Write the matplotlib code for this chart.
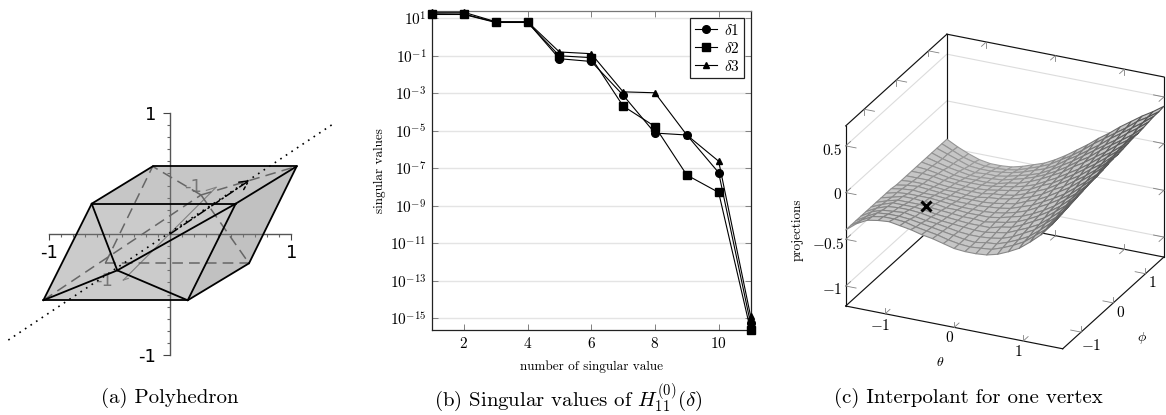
import numpy as np
import matplotlib
matplotlib.use('Agg')
import matplotlib.pyplot as plt
from mpl_toolkits.mplot3d import proj3d

plt.rcParams['font.family'] = ['cmr10', 'DejaVu Serif']
plt.rcParams['mathtext.fontset'] = 'cm'
plt.rcParams['axes.unicode_minus'] = False
plt.rcParams['axes.formatter.use_mathtext'] = True

W, H = 1166, 415

# (a) polyhedron vertices, read in axis units
A = (-1.045, -0.547)
B = (0.146, -0.547)
C = (0.652, -0.242)
D = (1.045, 0.558)
E = (-0.143, 0.558)
F = (-0.646, 0.25)
G = (0.542, 0.25)
P = (-0.435, -0.30)
Q = (-0.534, -0.242)
R = (0.256, 0.322)
solid_edges = [(A, B), (B, C), (C, D), (D, E), (E, F), (F, A), (F, G), (G, B),
               (F, P), (P, B), (A, P), (P, G), (G, D)]
hidden_edges = [(A, R), (R, E), (R, D), (R, C), (Q, E), (Q, C)]
view_line = [(-1.334, -0.875), (1.334, 0.90)]
view_arrow = (0.66, 0.446)
depth_axis = [(-0.385, -0.38), (0.38, 0.385)]
depth_ticks = [[(-0.385, -0.38), (-0.344, -0.366)], [(0.38, 0.385), (0.30, 0.36)]]

# (b) singular values
sv_index = [1, 2, 3, 4, 5, 6, 7, 8, 9, 10, 11]
delta1 = [17.5, 17.0, 6.3, 6.3, 0.07, 0.05, 8e-4, 7.6e-6, 6e-6, 5.9e-8, 5.6e-16]
delta2 = [16.0, 16.0, 6.0, 6.0, 0.10, 0.08, 2.1e-4, 1.7e-5, 4.4e-8, 5.2e-9, 2.4e-16]
delta3 = [21.0, 21.0, 6.6, 6.6, 0.16, 0.13, 1.2e-3, 1.07e-3, 6e-6, 2.4e-7, 1.4e-15]
sv_yticks = [1e1, 1e-1, 1e-3, 1e-5, 1e-7, 1e-9, 1e-11, 1e-13, 1e-15]

# (c) interpolant, rows go along phi, columns along theta
theta = [-1.571, -1.414, -1.257, -1.100, -0.942, -0.785, -0.628, -0.471, -0.314, -0.157, 0.0,
         0.157, 0.314, 0.471, 0.628, 0.785, 0.942, 1.100, 1.257, 1.414, 1.571]
phi = list(theta)
proj_values = [
    [-.40, -.31, -.25, -.23, -.22, -.24, -.26, -.29, -.31, -.34, -.37, -.38, -.38, -.37, -.34, -.29, -.23, -.14, -.04, .09, .25],
    [-.40, -.32, -.26, -.24, -.24, -.25, -.28, -.30, -.32, -.35, -.37, -.38, -.37, -.36, -.32, -.27, -.21, -.12, -.03, .10, .26],
    [-.40, -.33, -.27, -.26, -.26, -.27, -.29, -.31, -.33, -.35, -.37, -.38, -.36, -.35, -.31, -.26, -.20, -.11, -.01, .11, .27],
    [-.40, -.33, -.29, -.28, -.27, -.29, -.31, -.32, -.34, -.36, -.37, -.37, -.36, -.34, -.30, -.24, -.18, -.09, .00, .12, .27],
    [-.40, -.34, -.30, -.29, -.29, -.30, -.32, -.34, -.35, -.36, -.37, -.37, -.35, -.33, -.28, -.23, -.17, -.08, .02, .14, .28],
    [-.40, -.35, -.31, -.31, -.31, -.32, -.34, -.35, -.36, -.37, -.37, -.37, -.34, -.32, -.27, -.21, -.15, -.06, .03, .15, .29],
    [-.40, -.36, -.33, -.33, -.33, -.34, -.35, -.36, -.37, -.37, -.38, -.36, -.34, -.31, -.26, -.20, -.13, -.05, .05, .16, .30],
    [-.40, -.37, -.34, -.34, -.35, -.35, -.37, -.37, -.38, -.38, -.38, -.36, -.33, -.30, -.25, -.19, -.12, -.03, .06, .17, .30],
    [-.40, -.37, -.36, -.36, -.36, -.37, -.38, -.39, -.39, -.39, -.38, -.36, -.33, -.29, -.23, -.17, -.10, -.02, .08, .18, .31],
    [-.40, -.38, -.37, -.38, -.38, -.39, -.40, -.40, -.40, -.39, -.38, -.36, -.32, -.28, -.22, -.16, -.09, .00, .09, .19, .32],
    [-.41, -.39, -.38, -.39, -.40, -.41, -.41, -.41, -.41, -.40, -.38, -.36, -.31, -.27, -.21, -.14, -.07, .02, .11, .21, .33],
    [-.41, -.40, -.40, -.41, -.42, -.42, -.43, -.43, -.41, -.40, -.38, -.35, -.31, -.26, -.19, -.13, -.05, .03, .12, .22, .33],
    [-.41, -.41, -.41, -.43, -.44, -.44, -.44, -.44, -.42, -.41, -.39, -.35, -.30, -.25, -.18, -.11, -.04, .05, .13, .23, .34],
    [-.41, -.41, -.42, -.44, -.45, -.46, -.46, -.45, -.43, -.41, -.39, -.35, -.29, -.24, -.17, -.10, -.02, .06, .15, .24, .35],
    [-.41, -.42, -.44, -.46, -.47, -.47, -.47, -.46, -.44, -.42, -.39, -.35, -.29, -.23, -.16, -.09, -.01, .08, .16, .25, .36],
    [-.41, -.43, -.45, -.48, -.49, -.49, -.49, -.48, -.45, -.43, -.39, -.34, -.28, -.22, -.14, -.07, .01, .09, .18, .26, .36],
    [-.41, -.44, -.47, -.49, -.51, -.51, -.50, -.49, -.46, -.43, -.39, -.34, -.28, -.21, -.13, -.06, .03, .11, .19, .27, .37],
    [-.41, -.45, -.48, -.51, -.53, -.52, -.52, -.50, -.47, -.44, -.40, -.34, -.27, -.20, -.12, -.04, .04, .12, .21, .29, .38],
    [-.41, -.45, -.49, -.53, -.54, -.54, -.53, -.51, -.48, -.44, -.40, -.34, -.26, -.19, -.11, -.03, .06, .14, .22, .30, .39],
    [-.41, -.46, -.51, -.54, -.56, -.56, -.55, -.53, -.49, -.45, -.40, -.33, -.26, -.18, -.09, -.01, .07, .15, .24, .31, .39],
    [-.41, -.47, -.52, -.56, -.58, -.58, -.57, -.54, -.50, -.46, -.40, -.33, -.25, -.17, -.08, .00, .09, .17, .25, .32, .40],
]
mark_point = (-0.85, -0.63, -0.33)
z_grid = [-1, -0.5, 0, 0.5]
tick_values = [-1, 0, 1]
z_min, z_max = -1.214, 0.714
t_min, t_max = -1.571, 1.571


def rect(x0, y0, x1, y1):
    # pixel box (y from the top) to figure fractions
    return [x0 / W, 1 - y1 / H, (x1 - x0) / W, (y1 - y0) / H]


def label(x, y, s, size=9, **kw):
    fig.text(x / W, 1 - y / H, s, fontsize=size, ha='center', va='center', **kw)


fig = plt.figure(figsize=(W / 100, H / 100), dpi=100)

# ---- (a)
ax = fig.add_axes(rect(0, 90, 340, 370))
unit = 121.2
ax.set_xlim(-170.0 / unit, 170.0 / unit)
ax.set_ylim(-(370 - 234) / unit, (234 - 90) / unit)
ax.patch.set_visible(False)
for s in ['top', 'right']:
    ax.spines[s].set_visible(False)
ax.spines['bottom'].set_position('zero')
ax.spines['left'].set_position('zero')
ax.spines['bottom'].set_bounds(-1, 1)
ax.spines['left'].set_bounds(-1, 1)
for s in ['bottom', 'left']:
    ax.spines[s].set_color('#555555')
    ax.spines[s].set_linewidth(1.0)
ax.set_xticks([-1, 1])
ax.set_xticklabels(['-1', '1'], family='DejaVu Sans', fontsize=13)
ax.set_yticks([-1, 1])
ax.set_yticklabels(['-1', '1'], family='DejaVu Sans', fontsize=13)
minor = np.round(np.arange(-9, 10) / 10, 1)
ax.set_xticks(minor, minor=True)
ax.set_yticks(minor, minor=True)
ax.tick_params(which='major', length=4, width=0.8, color='#444444', pad=3)
ax.tick_params(axis='y', which='major', length=5, pad=5)
ax.tick_params(which='minor', length=2, width=0.8, color='#666666')

ax.fill(*zip(A, B, C, D, E, F), color='#7f7f7f', alpha=0.40, lw=0, zorder=3)
ax.fill(*zip(B, C, D, G), color='#7f7f7f', alpha=0.12, lw=0, zorder=3)
ax.fill(*zip(E, F, G, D), color='#7f7f7f', alpha=0.06, lw=0, zorder=3)
ax.plot(*zip(*depth_axis), color='#808080', lw=0.8, zorder=4)
for t in depth_ticks:
    ax.plot(*zip(*t), color='#808080', lw=0.8, zorder=4)
ax.text(-0.545, -0.39, '-1', family='DejaVu Sans', fontsize=13, color='#777777', ha='center', va='center', zorder=4)
ax.text(0.19, 0.385, '-1', family='DejaVu Sans', fontsize=13, color='#777777', ha='center', va='center', zorder=4)
for p, q in hidden_edges:
    ax.plot(*zip(p, q), color='#666666', lw=1.1, dashes=(7, 4), zorder=4)
ax.plot(*zip(*view_line), color='black', lw=1.2, linestyle=(0, (1, 3)), zorder=5)
ax.annotate('', xy=view_arrow, xytext=(0, 0), zorder=6,
            arrowprops=dict(arrowstyle='->', color='black', lw=1.1, linestyle=(0, (6, 2, 1, 2)),
                            shrinkA=0, shrinkB=0, mutation_scale=16))
for p, q in solid_edges:
    ax.plot(*zip(p, q), color='black', lw=1.3, solid_capstyle='round', zorder=7)

# ---- (b)
ax = fig.add_axes(rect(432, 11.5, 750.5, 330))
ax.semilogy(sv_index, delta1, color='black', lw=0.8, marker='o', ms=5.5, label=r'$\delta 1$', clip_on=False, zorder=5)
ax.semilogy(sv_index, delta2, color='black', lw=0.8, marker='s', ms=5.2, label=r'$\delta 2$', clip_on=False, zorder=5)
ax.semilogy(sv_index, delta3, color='black', lw=0.8, marker='^', ms=5.0, label=r'$\delta 3$', clip_on=False, zorder=5)
ax.set_xlim(1, 11)
ax.set_ylim(10 ** -15.62, 10 ** 1.363)
ax.set_xticks([2, 4, 6, 8, 10])
ax.set_yticks(sv_yticks)
ax.minorticks_off()
ax.tick_params(direction='in', top=True, right=True, length=4, width=0.7, color='#808080',
               labelsize=11, pad=4)
ax.grid(axis='y', color='#e4e4e4', lw=1.0)
ax.set_axisbelow(True)
for s in ax.spines.values():
    s.set_linewidth(0.9)
    s.set_color('#222222')
ax.spines['top'].set_color('#777777')
ax.set_xlabel('number of singular value', fontsize=9.5)
ax.set_ylabel('singular values', fontsize=9.5)
ax.xaxis.set_label_coords(0.5, -0.094)
ax.yaxis.set_label_coords(-0.144, 0.5)
ax.legend(loc='upper right', bbox_to_anchor=((744 - 432) / 318.5, 1 - (18 - 11.5) / 318.5),
          borderaxespad=0, fancybox=False, framealpha=1, edgecolor='#222222', fontsize=11,
          handlelength=1.45, handletextpad=0.45, labelspacing=0.2, borderpad=0.3).get_frame().set_linewidth(0.9)

# ---- (c)
ax = fig.add_axes(rect(700, -100, 1200, 400), projection='3d', computed_zorder=False)
ax.patch.set_visible(False)
ax.set_axis_off()
ax.set_proj_type('ortho')
ax.view_init(elev=25, azim=-65)
ax.set_box_aspect((1, 1, 0.83))

T, Ph = np.meshgrid(theta, phi)
Zv = np.array(proj_values)
surf = ax.plot_surface(T, Ph, Zv, rstride=1, cstride=1, color='#c6c6c6', shade=False,
                       linewidth=0.8, antialiased=True, zorder=3)
zc = (Zv[:-1, :-1] + Zv[1:, 1:]) / 2
shade = np.clip(0.62 - 0.32 * (zc + 0.58), 0.32, 0.64).ravel()
surf.set_edgecolor([(g, g, g, 1) for g in shade])

frame = '#111111'
lo, hi = t_min, t_max
box = [((lo, lo, z_min), (lo, lo, z_max)), ((lo, hi, z_min), (lo, hi, z_max)),
       ((hi, hi, z_min), (hi, hi, z_max)), ((lo, lo, z_max), (lo, hi, z_max)),
       ((lo, hi, z_max), (hi, hi, z_max)), ((lo, lo, z_min), (hi, lo, z_min)),
       ((hi, lo, z_min), (hi, hi, z_min)), ((lo, lo, z_min), (lo, hi, z_min)),
       ((lo, hi, z_min), (hi, hi, z_min))]
for p, q in box:
    ax.plot(*zip(p, q), color=frame, lw=0.85, zorder=2)
for z in z_grid:
    ax.plot([lo, lo, hi], [lo, hi, hi], [z, z, z], color='#dcdcdc', lw=0.8, zorder=1)

# little forked ticks on the box edges
dl = 0.15
dz = 0.06
tick_c = '#808080'
for v in tick_values:
    for (x0, y0, z0, d1, d2) in [(v, lo, z_min, (0, dl, 0), (0, 0, dz)),
                                 (v, hi, z_max, (0, -dl, 0), (0, 0, -dz)),
                                 (v, hi, z_min, (0, -dl, 0), (0, 0, dz)),
                                 (hi, v, z_min, (-dl, 0, 0), (0, 0, dz)),
                                 (lo, v, z_max, (dl, 0, 0), (0, 0, -dz))]:
        for d in (d1, d2):
            ax.plot([x0, x0 + d[0]], [y0, y0 + d[1]], [z0, z0 + d[2]], color=tick_c, lw=0.6, zorder=2)
for z in z_grid:
    for (x0, y0, d1, d2) in [(lo, lo, (0, dl, 0), (dl, 0, 0)), (hi, hi, (-dl, 0, 0), (0, -dl, 0))]:
        for d in (d1, d2):
            ax.plot([x0, x0 + d[0]], [y0, y0 + d[1]], [z, z], color=tick_c, lw=0.6, zorder=2)

ax.plot([mark_point[0]], [mark_point[1]], [mark_point[2]], marker='x', ms=6.5, mew=2.2, color='black', zorder=6)

ax.set_xlim(lo, hi, view_margin=0)
ax.set_ylim(lo, hi, view_margin=0)
ax.set_zlim(z_min, z_max, view_margin=0)


def corner_px(X, Y, Z):
    ax.apply_aspect()
    x, y, _ = proj3d.proj_transform(X, Y, Z, ax.get_proj())
    return ax.transData.transform((x, y))


# fit the box on the place it has in the reference
scale = 217.0 / (corner_px(hi, lo, z_min)[0] - corner_px(lo, lo, z_min)[0])
p0 = ax.get_position(original=True)
ax.set_position([p0.x0, p0.y0, p0.width * scale, p0.height * scale])
now = corner_px(lo, lo, z_min)
p0 = ax.get_position(original=True)
ax.set_position([p0.x0 + (845.7 - now[0]) / W, p0.y0 + ((H - 306.0) - now[1]) / H, p0.width, p0.height])

for x, y, s in [(832, 150.7, '0.5'), (837, 195, '0'), (828, 244, r'$-0.5$'), (832, 289, r'$-1$'),
                (880, 325, r'$-1$'), (949, 338, '0'), (1018, 352, '1'),
                (1091, 345, r'$-1$'), (1120, 312.7, '0'), (1152.7, 282.7, '1')]:
    label(x, y, s, size=11, math_fontfamily='cm')
label(798, 230, 'projections', size=9.5, rotation=90)
label(940, 362, r'$\theta$', size=10)
label(1141.7, 337.7, r'$\phi$', size=10)

# ---- captions
label(170, 398, '(a) Polyhedron', size=15)
label(568, 398, r'(b) Singular values of $H_{11}^{(0)}(\delta)$', size=15)
label(968, 398, '(c) Interpolant for one vertex', size=15)

fig.savefig('out.png', dpi=100)
